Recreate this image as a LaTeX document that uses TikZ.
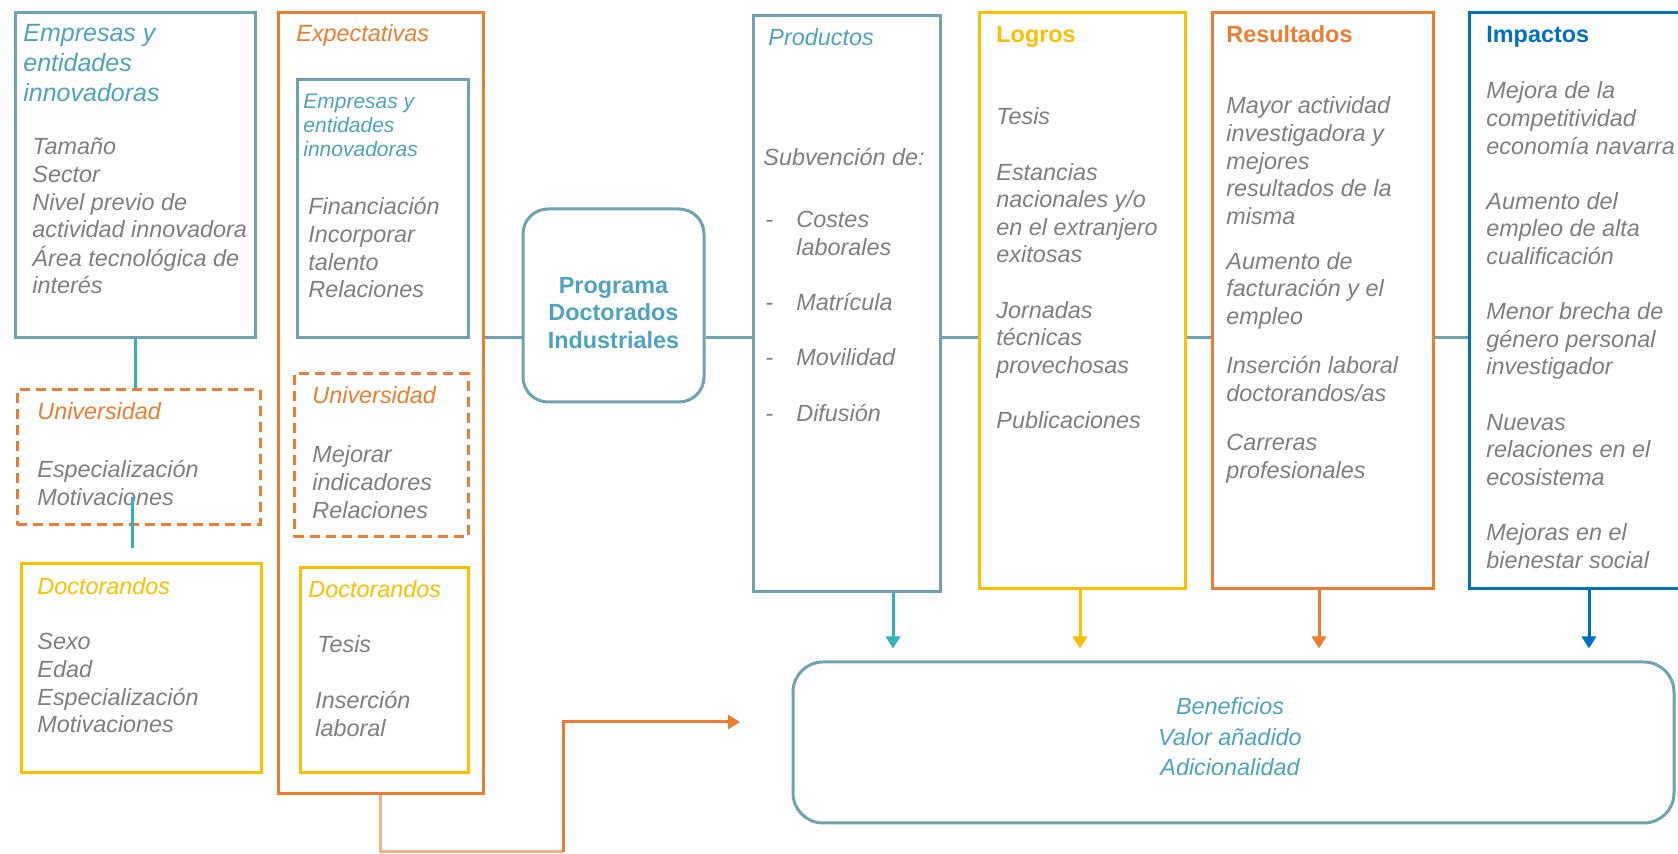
\documentclass[tikz,border=0pt]{standalone}
\usepackage{fontspec}
\setmainfont{Liberation Sans}
\usetikzlibrary{arrows.meta}

\definecolor{tealbox}{HTML}{6FA3AF}
\definecolor{tealline}{HTML}{31B3BA}
\definecolor{tealtext}{HTML}{4FA3C0}
\definecolor{orangebox}{HTML}{ED7D31}
\definecolor{lightorange}{HTML}{F4B183}
\definecolor{yellowbox}{HTML}{FFC000}
\definecolor{bluebox}{HTML}{0070C0}
\definecolor{greytext}{HTML}{7F7F7F}

\newcommand{\bodyfont}{\fontsize{11.7}{13.8}\selectfont\itshape}
\newcommand{\boldfont}{\fontsize{11.7}{13.8}\selectfont\bfseries}
\newcommand{\stack}[1]{\begin{tabular}[t]{@{}l@{}}#1\end{tabular}}

\begin{document}
\begin{tikzpicture}[x=0.5pt, y=-0.5pt,
    box/.style={draw=#1, line width=1.5pt, inner sep=0pt},
    dbox/.style={box=#1, dash pattern=on 5pt off 3pt},
    rbox/.style={box=tealbox, rounded corners=#1},
    txt/.style={anchor=base west, inner sep=0pt, text=greytext, font=\bodyfont},
    ttl/.style={txt, text=#1},
    btl/.style={txt, text=#1, font=\boldfont},
    link/.style={line width=1.5pt, draw=#1},
    arr/.style={link=#1, -{Triangle[length=6pt,width=7pt]}, shorten >=6pt}]
    \useasboundingbox (0,0) rectangle (1678,854);

    % Entradas
    \node[box=tealbox, minimum width=120pt, minimum height=162.5pt] (empL) at (135,175.5) {};
    \node[dbox=orangebox, minimum width=121.5pt, minimum height=67.5pt] (uniL) at (138.5,457.5) {};
    \node[box=yellowbox, minimum width=120pt, minimum height=104.5pt] (docL) at (141,668.5) {};

    \node[ttl=tealtext, font=\fontsize{12.5}{15}\selectfont\itshape] (empLt) at (23,42) {\stack{Empresas y\\entidades\\innovadoras}};
    \node[txt] (empLb) at (32,155) {\stack{Tamaño\\Sector\\Nivel previo de\\actividad innovadora\\Área tecnológica de\\interés}};
    \node[ttl=orangebox] (uniLt) at (37,420) {Universidad};
    \node[txt] (uniLb) at (37,478) {\stack{Especialización\\Motivaciones}};
    \node[ttl=yellowbox] (docLt) at (37,595) {Doctorandos};
    \node[txt] (docLb) at (37,650) {\stack{Sexo\\Edad\\Especialización\\Motivaciones}};

    % Expectativas
    \node[box=orangebox, minimum width=102.5pt, minimum height=390.5pt] (expe) at (380.5,403.5) {};
    \node[box=tealbox, minimum width=85.5pt, minimum height=129pt] (empI) at (382.5,209) {};
    \node[dbox=orangebox, minimum width=87pt, minimum height=81.5pt] (uniI) at (381,455.5) {};
    \node[box=yellowbox, minimum width=84pt, minimum height=102.5pt] (docI) at (384,670.5) {};

    \node[ttl=orangebox] (expet) at (296,42) {Expectativas};
    \node[ttl=tealtext, font=\fontsize{10.5}{12}\selectfont\itshape] (empIt) at (303,109) {\stack{Empresas y\\entidades\\innovadoras}};
    \node[txt] (empIb) at (308,215) {\stack{Financiación\\Incorporar\\talento\\Relaciones}};
    \node[ttl=orangebox] (uniIt) at (312,404) {Universidad};
    \node[txt] (uniIb) at (312,463) {\stack{Mejorar\\indicadores\\Relaciones}};
    \node[ttl=yellowbox] (docIt) at (308,598) {Doctorandos};
    \node[txt] (docIb) at (317,653) {Tesis};
    \node[txt] (docIc) at (315,709) {\stack{Inserción\\laboral}};

    % Programa
    \node[rbox=12.5pt, minimum width=90.5pt, minimum height=96.5pt] (prog) at (613.5,305.5) {};
    \node[align=center, inner sep=0pt, text=tealtext, font=\fontsize{11.7}{13.75}\selectfont\bfseries] (progt) at (613.5,313) {Programa\\Doctorados\\Industriales};

    % Productos, logros, resultados, impactos
    \node[box=tealbox, minimum width=93.5pt, minimum height=288pt] (prod) at (846.5,304) {};
    \node[box=yellowbox, minimum width=103pt, minimum height=288pt] (logr) at (1082,301) {};
    \node[box=orangebox, minimum width=110.5pt, minimum height=288pt] (resu) at (1322.5,301) {};
    \node[box=bluebox, minimum width=113pt, minimum height=288pt] (impa) at (1582,301) {};

    \node[ttl=tealtext] (prodt) at (768,46) {Productos};
    \node[txt] (prodb) at (763,166) {Subvención de:};
    \node[txt] (prodc) at (765,228) {\stack{\makebox[15.5pt][l]{-}Costes\\\hspace*{15.5pt}laborales\\[13.8pt]
        \makebox[15.5pt][l]{-}Matrícula\\[13.8pt]\makebox[15.5pt][l]{-}Movilidad\\[13.8pt]\makebox[15.5pt][l]{-}Difusión}};

    \node[btl=yellowbox] (logrt) at (996,43) {Logros};
    \node[txt] (logrb) at (996,125) {\stack{Tesis\\[13.8pt]Estancias\\nacionales y/o\\en el extranjero\\exitosas\\[13.8pt]
        Jornadas\\técnicas\\provechosas\\[13.8pt]Publicaciones}};

    \node[btl=orangebox] (resut) at (1226,43) {Resultados};
    \node[txt] (resub) at (1226,114) {\stack{Mayor actividad\\investigadora y\\mejores\\resultados de la\\misma\\[8.7pt]
        Aumento de\\facturación y el\\empleo\\[10.7pt]Inserción laboral\\doctorandos/as\\[11pt]
        Carreras\\profesionales}};

    \node[btl=bluebox] (impat) at (1486,43) {Impactos};
    \node[txt] (impab) at (1486,99) {\stack{Mejora de la\\competitividad\\economía navarra\\[13.8pt]
        Aumento del\\empleo de alta\\cualificación\\[13.8pt]Menor brecha de\\género personal\\investigador\\[13.8pt]
        Nuevas\\relaciones en el\\ecosistema\\[13.8pt]Mejoras en el\\bienestar social}};

    % Beneficios
    \node[rbox=15pt, minimum width=440.5pt, minimum height=80.5pt] (bene) at (1233.5,742.5) {};
    \node[align=center, inner sep=0pt, text=tealtext, font=\fontsize{11.7}{15.25}\selectfont\itshape] (benet) at (1230,737) {Beneficios\\Valor añadido\\Adicionalidad};

    % Conexiones
    \coordinate (mid) at (0,338);
    \coordinate (udTop) at (132,497);
    \draw[link=tealline] (empL.south) -- (empL.south |- uniL.north);
    \draw[link=tealline, shorten >=7pt] (udTop) -- (udTop |- docL.north);
    \draw[link=tealbox] (expe.east |- mid) -- (prog.west |- mid);
    \draw[link=tealbox] (prog.east |- mid) -- (prod.west |- mid);
    \draw[link=tealbox] (prod.east |- mid) -- (logr.west |- mid);
    \draw[link=tealbox] (logr.east |- mid) -- (resu.west |- mid);
    \draw[link=tealbox] (resu.east |- mid) -- (impa.west |- mid);

    % Flechas hacia beneficios
    \coordinate (aP) at (893,0);
    \coordinate (aL) at (1080,0);
    \coordinate (aR) at (1319,0);
    \coordinate (aI) at (1589,0);
    \draw[arr=tealline] (aP |- prod.south) -- (aP |- bene.north);
    \draw[arr=yellowbox] (aL |- logr.south) -- (aL |- bene.north);
    \draw[arr=orangebox] (aR |- resu.south) -- (aR |- bene.north);
    \draw[arr=bluebox] (aI |- impa.south) -- (aI |- bene.north);

    \coordinate (turn) at (563,852);
    \coordinate (tip) at (740,722);
    \draw[link=lightorange] (expe.south) |- (turn);
    \draw[arr=orangebox, shorten >=0pt] (turn) |- (tip);
\end{tikzpicture}
\end{document}
